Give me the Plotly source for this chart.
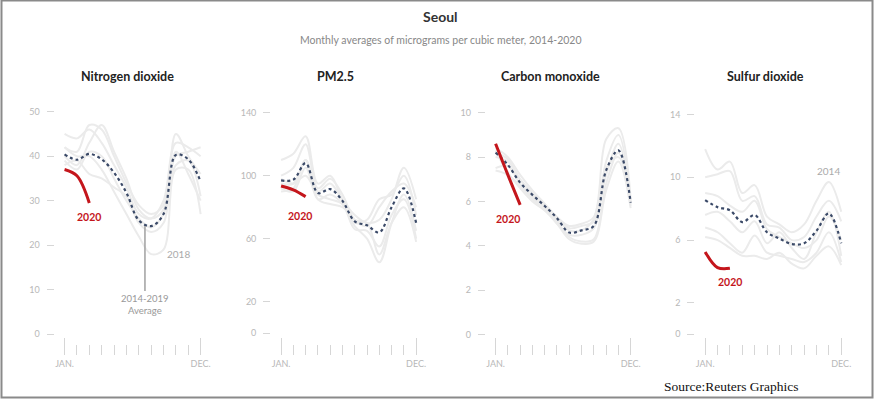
import plotly.graph_objects as go

# ---------------- data ----------------
months = list(range(1, 13))
year_labels = ["2014", "2015", "2016", "2017", "2018", "2019"]

no2_years = [
    [45, 44, 46, 43, 38, 33, 27, 26, 30, 43, 42, 40],
    [42, 41, 47, 46, 40, 34, 29, 27, 29, 40, 41, 42],
    [40, 38, 43, 47, 41, 35, 28, 26, 28, 45, 40, 36],
    [39, 37, 41, 40, 35, 30, 26, 24, 27, 38, 39, 31],
    [42, 40, 40, 37, 32, 27, 22, 18, 19, 37, 37, 27],
    [38, 39, 36, 35, 33, 31, 25, 23, 25, 41, 36, 30],
]
no2_avg = [40.4, 39.2, 40.5, 39.3, 36.3, 31.8, 25.6, 24.3, 27.0, 40.3, 39.3, 34.3]
no2_2020 = [37.0, 35.6, 29.5]

pm25_years = [
    [110, 114, 125, 95, 100, 85, 75, 70, 72, 85, 105, 85],
    [100, 105, 120, 92, 98, 88, 72, 68, 80, 90, 95, 80],
    [95, 95, 110, 90, 95, 84, 70, 72, 85, 88, 100, 75],
    [92, 90, 105, 85, 88, 82, 68, 60, 45, 70, 88, 65],
    [98, 95, 100, 88, 85, 82, 66, 65, 55, 75, 85, 60],
    [90, 92, 110, 85, 82, 80, 72, 70, 50, 70, 80, 58],
]
pm25_avg = [97, 97.5, 108, 89, 91.5, 84, 71, 68.5, 64, 80, 92, 70]
pm25_2020 = [93.5, 91, 86.7]

co_years = [
    [8.4, 8.0, 7.2, 6.5, 5.9, 5.3, 4.9, 5.0, 5.3, 8.8, 9.3, 6.1],
    [8.0, 7.8, 7.0, 6.4, 5.8, 5.0, 4.5, 4.5, 4.8, 7.8, 9.0, 6.0],
    [7.5, 7.6, 6.8, 6.2, 5.7, 5.1, 4.4, 4.2, 4.3, 6.8, 8.2, 5.8],
    [8.3, 7.3, 6.6, 6.0, 5.6, 5.2, 4.7, 4.7, 5.2, 7.5, 8.0, 5.9],
    [7.4, 7.2, 6.7, 6.1, 5.6, 5.0, 4.3, 4.1, 4.2, 6.5, 7.8, 5.7],
    [8.2, 7.9, 7.0, 6.3, 5.8, 5.3, 4.8, 4.9, 5.1, 7.2, 8.6, 6.0],
]
co_avg = [8.2, 7.65, 6.85, 6.3, 5.8, 5.25, 4.6, 4.7, 4.9, 7.4, 8.3, 5.95]
co_2020 = [8.6, 7.2, 5.85]

so2_years = [
    [11.8, 10.5, 11.0, 9.0, 9.5, 7.5, 7.0, 6.5, 7.0, 8.5, 9.7, 7.8],
    [10.0, 10.2, 10.4, 8.5, 8.8, 7.0, 6.8, 6.0, 6.2, 7.5, 8.5, 7.2],
    [9.0, 8.8, 8.2, 7.8, 8.5, 6.7, 6.2, 5.8, 5.5, 6.0, 7.5, 6.0],
    [7.6, 7.8, 7.2, 6.5, 7.2, 5.8, 6.5, 5.5, 4.8, 6.5, 7.8, 5.0],
    [6.8, 6.5, 5.8, 5.2, 6.3, 5.2, 5.0, 4.8, 4.6, 5.2, 6.5, 4.6],
    [6.2, 6.0, 5.5, 5.0, 5.0, 4.8, 5.2, 4.5, 4.2, 5.0, 5.6, 4.4],
]
so2_avg = [8.55, 8.1, 7.9, 7.15, 7.6, 6.5, 6.1, 5.75, 5.8, 6.6, 7.7, 5.8]
so2_2020 = [5.25, 4.25, 4.2]

panel_titles = ["Nitrogen dioxide", "PM2.5", "Carbon monoxide", "Sulfur dioxide"]
no2_ticks = [0, 10, 20, 30, 40, 50]
pm25_ticks = [0, 20, 60, 100, 140]
co_ticks = [0, 2, 4, 6, 8, 10]
so2_ticks = [0, 2, 6, 10, 14]
x_tick_vals = [1, 12]
x_tick_text = ["JAN.", "DEC."]

# ---------------- layout geometry (pixels) ----------------
W, H = 880, 399
FONT = "Lato, 'Noto Sans', sans-serif"
GRAY_LINE = "#ebebeb"
AVG_COL = "#3b4a68"
RED = "#c4161c"
TICK_COL = "#d6d6d6"
LABEL_COL = "#b8b8b8"

def fx(px):
    return px / W

def fy(py):
    return 1 - py / H

# jan_px, dec_px, zero_px, px_per_unit
geo = [
    (65, 202, 334.3, 4.453),
    (283, 419, 333.2, 1.575),
    (499, 635, 334.7, 22.2),
    (710, 847, 334.3, 15.7),
]
title_x = [128, 338, 554, 771]
top_px, bottom_px = 95, 355

series = [
    (no2_years, no2_avg, no2_2020, no2_ticks),
    (pm25_years, pm25_avg, pm25_2020, pm25_ticks),
    (co_years, co_avg, co_2020, co_ticks),
    (so2_years, so2_avg, so2_2020, so2_ticks),
]

fig = go.Figure()
layout = dict(
    width=W, height=H,
    margin=dict(l=0, r=0, t=0, b=0),
    paper_bgcolor="white", plot_bgcolor="white",
    showlegend=False,
    font=dict(family=FONT),
)

for i, ((yrs, avg, cur, yt), (jan, dec, zero, ppu)) in enumerate(zip(series, geo)):
    n = i + 1
    xa = "x" if n == 1 else f"x{n}"
    ya = "y" if n == 1 else f"y{n}"
    for yname, vals in zip(year_labels, yrs):
        fig.add_trace(go.Scatter(x=months, y=vals, mode="lines", xaxis=xa, yaxis=ya,
                                 line=dict(color=GRAY_LINE, width=2, shape="spline"),
                                 name=yname, hoverinfo="skip"))
    fig.add_trace(go.Scatter(x=months, y=avg, mode="lines", xaxis=xa, yaxis=ya,
                             line=dict(color=AVG_COL, width=2.2, dash="dot", shape="spline"),
                             name="2014-2019 Average"))
    fig.add_trace(go.Scatter(x=months[:len(cur)], y=cur, mode="lines", xaxis=xa, yaxis=ya,
                             line=dict(color=RED, width=3, shape="spline"),
                             name="2020"))
    step = (dec - jan) / 11
    left_px, right_px = jan - 10, dec + 4
    layout["xaxis" if n == 1 else f"xaxis{n}"] = dict(
        domain=[fx(left_px), fx(right_px)],
        range=[1 - (jan - left_px) / step, 12 + (right_px - dec) / step],
        anchor=ya, showgrid=False, zeroline=False, showline=False,
        tickvals=x_tick_vals, ticktext=x_tick_text,
        ticks="inside", ticklen=17, tickcolor=TICK_COL, tickwidth=1,
        minor=dict(tick0=1, dtick=1, ticks="inside", ticklen=10, tickcolor=TICK_COL, tickwidth=1),
        tickfont=dict(size=9, color=LABEL_COL, family=FONT),
        ticklabelstandoff=2,
        fixedrange=True,
    )
    layout["yaxis" if n == 1 else f"yaxis{n}"] = dict(
        domain=[fy(bottom_px), fy(top_px)],
        range=[-(bottom_px - zero) / ppu, (zero - top_px) / ppu],
        anchor=xa, showgrid=False, zeroline=False, showline=False,
        tickvals=yt, ticks="outside", ticklen=7, tickcolor=TICK_COL, tickwidth=1,
        tickfont=dict(size=9, color=LABEL_COL, family=FONT),
        ticklabelstandoff=5,
        fixedrange=True,
    )

def txt(px, py, text, size, color, family=FONT):
    return dict(x=fx(px), y=fy(py), xref="paper", yref="paper", text=text, showarrow=False,
                xanchor="center", yanchor="middle", font=dict(size=size, color=color, family=family))

annotations = [
    txt(444, 16, "<b>Seoul</b>", 14, "#333"),
    txt(444, 40, "Monthly averages of micrograms per cubic meter, 2014-2020", 10.5, "#888"),
    txt(737, 386, "Source:Reuters Graphics", 13.5, "#111", "'Liberation Serif', serif"),
]
for t, tx in zip(panel_titles, title_x):
    annotations.append(txt(tx, 77, f"<b>{t}</b>", 12.5, "#222"))

for px, py in [(90, 217), (301.7, 215.7), (511, 219), (735, 282)]:
    annotations.append(txt(px, py, "<b>2020</b>", 10.5, RED))
annotations.append(txt(180, 254, "2018", 10, "#aaa"))
annotations.append(txt(834, 171, "2014", 10, "#aaa"))
annotations.append(dict(x=7.5, y=min(no2_avg), xref="x", yref="y", text="2014-2019<br>Average",
                        showarrow=True, arrowhead=0, arrowwidth=1.5, arrowcolor="#a0a0a0",
                        ax=0, ay=78, font=dict(size=9.5, color="#999", family=FONT)))

layout["annotations"] = annotations
layout["shapes"] = [dict(type="rect", xref="paper", yref="paper",
                         x0=fx(1.5), x1=fx(878.5), y0=fy(397.5), y1=fy(0.5),
                         line=dict(color="#8a8a8a", width=2), fillcolor="rgba(0,0,0,0)")]
fig.update_layout(**layout)
fig.write_html(
    "out.html",
    config={"displayModeBar": False, "responsive": False},
    post_script=(
        "document.documentElement.style.margin='0';"
        "document.documentElement.style.overflow='hidden';"
        "document.body.style.margin='0';"
        "document.body.style.overflow='hidden';"
    ),
)
